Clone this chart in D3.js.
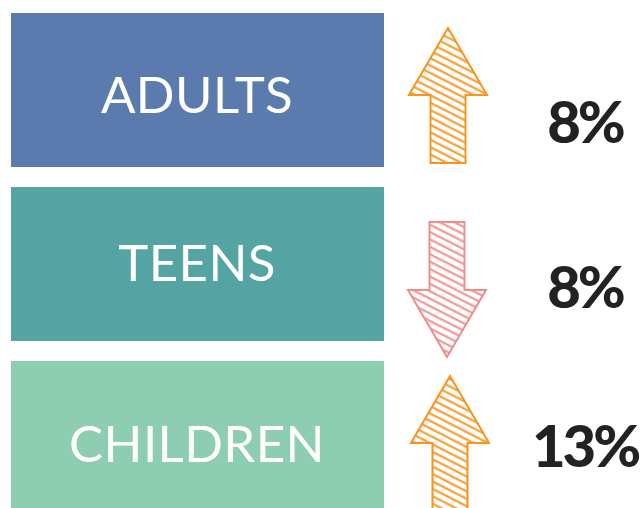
<!DOCTYPE html>
<html lang="en">
<head>
  <meta charset="UTF-8">
  <title>Change by age group</title>
  <script src="https://d3js.org/d3.v7.min.js"></script>
  <style>
    body { margin: 0; background: #fff; }
  </style>
</head>
<body>
  <script>
    // Data
    const categories = ["ADULTS", "TEENS", "CHILDREN"];
    const changes = [8, -8, 13];          // sign gives the arrow direction
    const changeLabels = ["8%", "8%", "13%"];
    const boxColors = ["#5b7baf", "#55a4a4", "#8dcdb2"];

    const width = 640, height = 508;
    const svg = d3.select("body").append("svg")
      .attr("width", width)
      .attr("height", height);

    // Rows
    const y = d3.scaleBand()
      .domain(categories)
      .range([13, 515])
      .paddingInner(0.115);

    const upColor = "#f7941e", downColor = "#ef8c8c";

    // hatch patterns
    const defs = svg.append("defs");
    [["hatch-up", upColor], ["hatch-down", downColor]].forEach(([id, c]) => {
      const p = defs.append("pattern")
        .attr("id", id)
        .attr("patternUnits", "userSpaceOnUse")
        .attr("width", 10).attr("height", 6.6)
        .attr("patternTransform", "rotate(27)");
      p.append("line")
        .attr("x1", 0).attr("x2", 10)
        .attr("y1", 3.3).attr("y2", 3.3)
        .attr("stroke", c).attr("stroke-width", 2);
    });

    const rows = svg.selectAll("g.row")
      .data(categories.map((c, i) => ({ cat: c, change: changes[i], label: changeLabels[i], color: boxColors[i] })))
      .join("g")
      .attr("class", "row")
      .attr("transform", d => `translate(0,${y(d.cat)})`);

    // Boxes
    rows.append("rect")
      .attr("x", 11)
      .attr("width", 373)
      .attr("height", y.bandwidth())
      .attr("fill", d => d.color);

    rows.append("text")
      .attr("x", 197)
      .attr("y", (d, i) => [100, 94, 101][i])
      .attr("text-anchor", "middle")
      .attr("fill", "#fff")
      .style("font-family", "Lato, sans-serif")
      .style("font-size", "51px")
      .style("letter-spacing", "0.4px")
      .text(d => d.cat);

    // Arrows
    const headLen = 67, shaftLen = 68, headHalf = 39, shaftHalf = 17.5;
    const arrowX = [448, 447, 450];
    function arrowPath(cx, up) {
      if (up) {
        const t = 15;
        return `M${cx},${t} L${cx + headHalf},${t + headLen} L${cx + shaftHalf},${t + headLen}
                L${cx + shaftHalf},${t + headLen + shaftLen} L${cx - shaftHalf},${t + headLen + shaftLen}
                L${cx - shaftHalf},${t + headLen} L${cx - headHalf},${t + headLen} Z`;
      }
      const t = 35;
      return `M${cx - shaftHalf},${t} L${cx + shaftHalf},${t} L${cx + shaftHalf},${t + shaftLen}
              L${cx + headHalf},${t + shaftLen} L${cx},${t + shaftLen + headLen}
              L${cx - headHalf},${t + shaftLen} L${cx - shaftHalf},${t + shaftLen} Z`;
    }

    rows.append("path")
      .attr("d", (d, i) => arrowPath(arrowX[i], d.change > 0))
      .attr("fill", d => d.change > 0 ? "url(#hatch-up)" : "url(#hatch-down)")
      .attr("stroke", d => d.change > 0 ? upColor : downColor)
      .attr("stroke-width", 2)
      .attr("stroke-linejoin", "miter");

    // Values
    rows.append("text")
      .attr("x", 585)
      .attr("y", (d, i) => [130, 121, 106][i])
      .attr("text-anchor", "middle")
      .attr("fill", "#222")
      .style("font-family", "Lato, sans-serif")
      .style("font-weight", 900)
      .style("font-size", "58px")
      .style("letter-spacing", "-3px")
      .text(d => d.label);
  </script>
</body>
</html>
